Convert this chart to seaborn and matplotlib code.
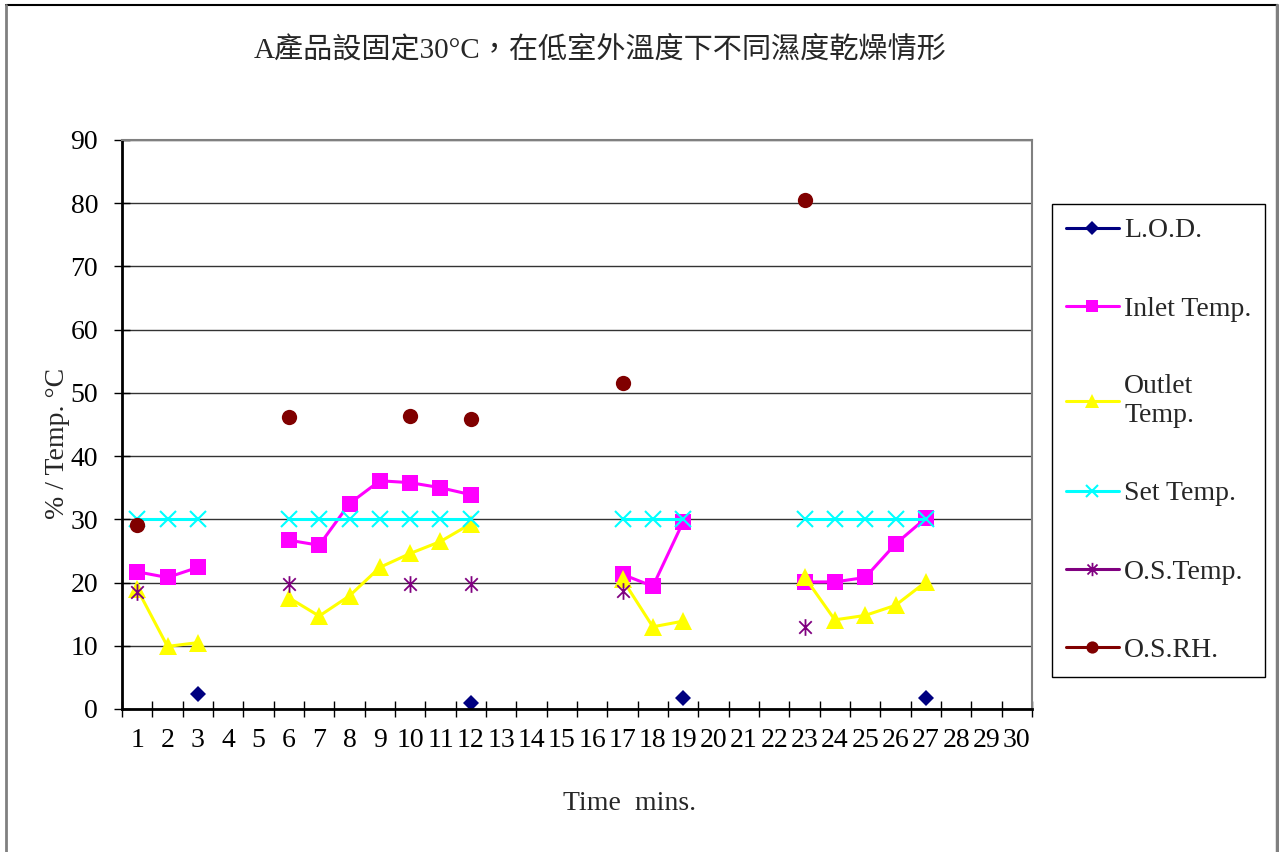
import numpy as np
import pandas as pd
import matplotlib
matplotlib.use("Agg")
import matplotlib.pyplot as plt
from matplotlib.lines import Line2D
from matplotlib.path import Path
from matplotlib.ticker import MultipleLocator, FixedLocator
import seaborn as sns

# ---- data -------------------------------------------------------------
minutes = list(range(1, 31))
nan = np.nan

lod = {3: 2.4, 12: 0.9, 19: 1.7, 27: 1.8}
inlet_temp = {1: 21.7, 2: 20.8, 3: 22.4,
              6: 26.7, 7: 25.9, 8: 32.5, 9: 36.1, 10: 35.8, 11: 35.0, 12: 33.9,
              17: 21.3, 18: 19.4, 19: 29.6,
              23: 20.1, 24: 20.1, 25: 20.8, 26: 26.1, 27: 30.2}
outlet_temp = {1: 19.0, 2: 9.9, 3: 10.5,
               6: 17.6, 7: 14.7, 8: 17.9, 9: 22.4, 10: 24.6, 11: 26.5, 12: 29.3,
               17: 20.5, 18: 13.0, 19: 13.9,
               23: 20.9, 24: 14.1, 25: 14.8, 26: 16.4, 27: 20.1}
set_temp = {m: 30.0 for m in [1, 2, 3, 6, 7, 8, 9, 10, 11, 12, 17, 18, 19,
                              23, 24, 25, 26, 27]}
os_temp = {1: 18.5, 6: 19.7, 10: 19.7, 12: 19.7, 17: 18.6, 23: 12.9}
os_rh = {1: 29.1, 6: 46.2, 10: 46.4, 12: 45.9, 17: 51.5, 23: 80.5}

series_names = ["L.O.D.", "Inlet Temp.", "Outlet Temp.", "Set Temp.",
                "O.S.Temp.", "O.S.RH."]
legend_labels = ["L.O.D.", "Inlet Temp.", "Outlet\nTemp.", "Set Temp.",
                 "O.S.Temp.", "O.S.RH."]
series_values = [lod, inlet_temp, outlet_temp, set_temp, os_temp, os_rh]

title = "A產品設固定30°C，在低室外溫度下不同濕度乾燥情形"
x_label = "Time  mins."
y_label = "% / Temp. °C"

# ---- styles -----------------------------------------------------------
# asterisk marker: a vertical stroke crossed by an X
star = Path([(0, -1), (0, 1), (-0.75, -0.75), (0.75, 0.75),
             (-0.75, 0.75), (0.75, -0.75)],
            [Path.MOVETO, Path.LINETO, Path.MOVETO, Path.LINETO,
             Path.MOVETO, Path.LINETO])

styles = {
    "L.O.D.":       dict(color="#000080", marker="D", ms=8.5, mew=0, fill=True),
    "Inlet Temp.":  dict(color="#FF00FF", marker="s", ms=11.5, mew=0, fill=True),
    "Outlet Temp.": dict(color="#FFFF00", marker="^", ms=13, mew=0, fill=True),
    "Set Temp.":    dict(color="#00FFFF", marker="x", ms=11, mew=1.5, fill=True),
    "O.S.Temp.":    dict(color="#800080", marker=star, ms=12, mew=1.3, fill=False),
    "O.S.RH.":      dict(color="#800000", marker="o", ms=11, mew=0, fill=True),
}

sns.set_style("white")
plt.rcParams["font.family"] = ["Liberation Serif", "Noto Sans CJK TC"]
plt.rcParams["axes.unicode_minus"] = False

W, H = 1279, 852
fig = plt.figure(figsize=(W / 100, H / 100), dpi=100)
fig.patch.set_facecolor("white")
ax = fig.add_axes([122 / W, 1 - 709 / H, (1032 - 122) / W, (709 - 140) / H])

# long table with a run id so gaps in time are left open
rows = []
for name, vals in zip(series_names, series_values):
    run = 0
    prev = None
    for m in minutes:
        v = vals.get(m, nan)
        if np.isnan(v):
            continue
        if prev is not None and m != prev + 1:
            run += 1
        rows.append((name, m, v, run))
        prev = m
df = pd.DataFrame(rows, columns=["series", "minute", "value", "run"])

for name in series_names:
    st = styles[name]
    sub = df[df["series"] == name]
    for _, seg in sub.groupby("run"):
        sns.lineplot(data=seg, x="minute", y="value", ax=ax,
                     estimator=None, sort=False, legend=False,
                     color=st["color"], lw=2.2, marker=st["marker"],
                     markersize=st["ms"], markeredgewidth=st["mew"],
                     markeredgecolor=st["color"],
                     markerfacecolor=st["color"] if st["fill"] else "none")

# ---- axes -------------------------------------------------------------
ax.set_xlim(0.5, 30.5)
ax.set_ylim(0, 90)
ax.set_facecolor("white")
ax.xaxis.set_major_locator(FixedLocator(minutes))
ax.set_xticklabels([str(m) for m in minutes])
ax.xaxis.set_minor_locator(FixedLocator(np.arange(0.5, 31, 1)))
ax.yaxis.set_major_locator(MultipleLocator(10))
ax.tick_params(which="both", bottom=True, left=True, top=False, right=False)
ax.tick_params(axis="x", which="major", length=0, pad=13.5,
               labelsize=20, colors="black")
ax.tick_params(axis="x", which="minor", length=11.5, width=1,
               direction="inout", color="black")
ax.tick_params(axis="y", which="major", length=11.5, width=1,
               direction="inout", pad=11.5, labelsize=20, colors="black")
ax.yaxis.grid(True, color="#333333", lw=1)
ax.xaxis.grid(False)
ax.set_axisbelow(True)
for side in ["left", "bottom"]:
    ax.spines[side].set_color("black")
    ax.spines[side].set_linewidth(2)
for side in ["top", "right"]:
    ax.spines[side].set_color("#808080")
    ax.spines[side].set_linewidth(1.5)
ax.set_xlabel("")
ax.set_ylabel("")

fig.text(600 / W, 1 - 50 / H, title, ha="center", va="center", fontsize=21)
fig.text(630 / W, 1 - 803 / H, x_label, ha="center", va="center", fontsize=20)
fig.text(58 / W, 1 - 443 / H, y_label, ha="center", va="center",
         rotation=90, fontsize=20)

# ---- legend -----------------------------------------------------------
handles = []
for name in series_names:
    st = styles[name]
    handles.append(Line2D([], [], color=st["color"], lw=2.2, marker=st["marker"],
                          ms=st["ms"] * 0.8, mew=st["mew"], mec=st["color"],
                          mfc=st["color"] if st["fill"] else "none"))
leg = fig.legend(handles, legend_labels, loc="upper left",
                 bbox_to_anchor=(1052 / W, 1 - 204 / H),
                 bbox_transform=fig.transFigure, fontsize=20,
                 frameon=True, fancybox=False, shadow=False, framealpha=1,
                 edgecolor="black", borderpad=0.5, labelspacing=1.9,
                 handlelength=1.9, handletextpad=0.2, borderaxespad=0)
leg.get_frame().set_linewidth(1)

# ---- chart frame ------------------------------------------------------
fig.add_artist(Line2D([6 / W, 1277 / W], [1 - 5 / H, 1 - 5 / H],
                      transform=fig.transFigure, color="black", lw=1.5))
fig.add_artist(Line2D([6 / W, 6 / W], [1 - 5 / H, 0],
                      transform=fig.transFigure, color="#808080", lw=2))
fig.add_artist(Line2D([1277 / W, 1277 / W], [1 - 5 / H, 0],
                      transform=fig.transFigure, color="#808080", lw=2.5))

fig.savefig("out.png", dpi=100, facecolor="white")
